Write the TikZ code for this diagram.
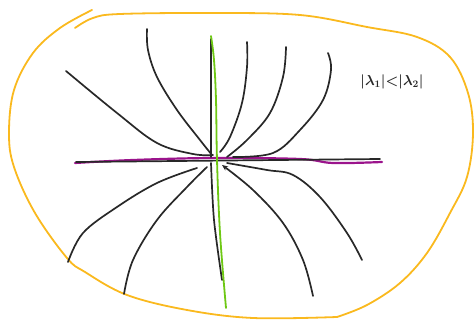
\documentclass[tikz,border=0pt]{standalone}
\usetikzlibrary{arrows.meta}
\definecolor{orng}{RGB}{250,185,30}
\definecolor{grn}{RGB}{110,200,20}
\definecolor{purp}{RGB}{155,20,140}
\definecolor{ink}{RGB}{40,40,40}
\begin{document}
\begin{tikzpicture}[x=1pt,y=-1pt,
  trail/.style={draw=ink,line width=1.7pt,line cap=round,line join=round},
  loopline/.style={draw=orng,line width=1.8pt,line cap=round},
]
\useasboundingbox (0,0) rectangle (474,320);
% orange closed curve
\draw[loopline] plot[smooth,tension=0.6] coordinates {(75,28) (93,18) (120,14) (213,13) (300,15) (367,27) (417,37) (450,57) (468,93) (473,133) (467,177) (450,213) (427,253) (400,283) (367,305) (337,317)};
\draw[loopline] plot[smooth,tension=0.6] coordinates {(337,317) (253,318) (187,310) (127,295) (85,272) (67,258) (35,213) (14,167) (9,133) (14,90) (33,53) (60,28) (92,10)};
% purple axis
\draw[purp,line width=2.2pt,line cap=round] plot[smooth,tension=0.6] coordinates {(75,163) (133,160) (213,158) (300,159) (333,163) (382,162)};
% black lines
\draw[trail] (76,162) -- (380,159);
\draw[trail] plot[smooth] coordinates {(211,39) (211,100) (211,157)};
\draw[trail] plot[smooth] coordinates {(211,163) (214,220) (222,280)};
% green axis
\draw[grn,line width=1.8pt,line cap=round] plot[smooth,tension=0.6] coordinates {(211,36) (214,60) (216,100) (217,160) (220,233) (226,308)};
% upper trajectories
\draw[trail] plot[smooth,tension=0.6] coordinates {(66,71) (117,113) (157,143) (193,154) (213,155)};
\draw[trail] plot[smooth,tension=0.6] coordinates {(147,29) (148,50) (157,77) (177,110) (200,140) (212,155)};
\draw[trail] plot[smooth,tension=0.6] coordinates {(247,42) (247,67) (242,103) (230,137) (220,152)};
\draw[trail] plot[smooth,tension=0.6] coordinates {(286,47) (283,77) (270,113) (247,140) (227,157)};
\draw[trail] plot[smooth,tension=0.6] coordinates {(328,53) (331,70) (323,100) (300,130) (273,153) (233,157)};
% lower trajectories
\draw[trail] plot[smooth,tension=0.6] coordinates {(68,262) (83,233) (117,207) (157,183) (197,168)};
\draw[trail] plot[smooth,tension=0.6] coordinates {(124,294) (133,260) (157,220) (187,187) (207,167)};
\draw[trail,-{Stealth[length=6pt,width=5pt]}] plot[smooth,tension=0.6] coordinates {(313,296) (303,260) (283,223) (253,190) (222,165)};
\draw[trail] plot[smooth,tension=0.6] coordinates {(362,260) (347,233) (320,197) (293,175) (267,170) (227,163)};
% label
\node[text=ink,font=\fontsize{14}{16}\selectfont\boldmath] (lab) at (392,82) {$|\lambda_1|{<}|\lambda_2|$};
\end{tikzpicture}
\end{document}
